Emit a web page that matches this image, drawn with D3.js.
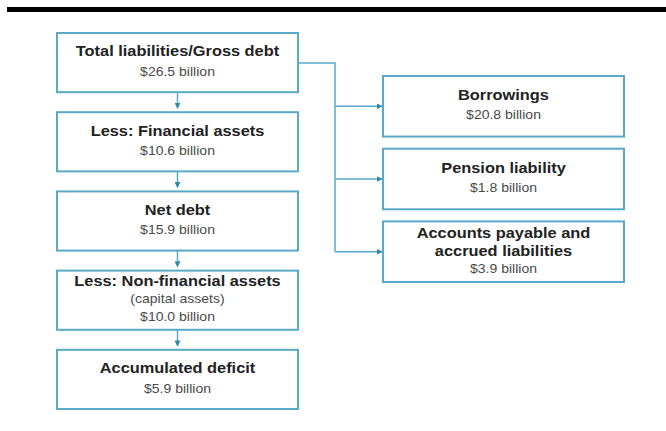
<!DOCTYPE html>
<html>
<head>
<meta charset="utf-8">
<script src="https://cdn.jsdelivr.net/npm/d3@7"></script>
<style>
  body { margin: 0; background: #fff; }
  svg { display: block; font-family: "Liberation Sans", Arial, sans-serif; }
</style>
</head>
<body>
<div id="chart"></div>
<script>
// left column (the debt chain)
var leftTitles = [
    ["Total liabilities/Gross debt"],
    ["Less: Financial assets"],
    ["Net debt"],
    ["Less: Non-financial assets"],
    ["Accumulated deficit"]
];
var leftNotes = ["", "", "", "(capital assets)", ""];
var leftValues = [26.5, 10.6, 15.9, 10.0, 5.9];

// right column (breakdown of total liabilities)
var rightTitles = [
    ["Borrowings"],
    ["Pension liability"],
    ["Accounts payable and", "accrued liabilities"]
];
var rightValues = [20.8, 1.8, 3.9];

var width = 666, height = 431;
var lineColor = "#58aac6";
var arrowColor = "#2b8aa9";

var svg = d3.select("#chart")
    .append("svg")
    .attr("width", width)
    .attr("height", height);

// top rule
svg.append("rect")
    .attr("x", 7).attr("y", 7)
    .attr("width", width - 7).attr("height", 5)
    .attr("fill", "#000");

// arrow marker
svg.append("defs").append("marker")
    .attr("id", "arrow")
    .attr("viewBox", "0 0 10 10")
    .attr("refX", 9).attr("refY", 5)
    .attr("markerWidth", 4).attr("markerHeight", 4)
    .attr("orient", "auto")
    .append("path")
    .attr("d", "M0,0L10,5L0,10z")
    .attr("fill", arrowColor);

var fmt = d3.format(".1f");

// scales for box positions
var yLeft = d3.scaleBand()
    .domain(d3.range(leftValues.length))
    .range([33, 409])
    .paddingInner(0.253)
    .paddingOuter(0);

var yRight = d3.scaleBand()
    .domain(d3.range(rightValues.length))
    .range([76, 282])
    .paddingInner(0.167)
    .paddingOuter(0);

var leftX = 57, leftW = 241;
var rightX = 383, rightW = 241;

var leftData = leftValues.map(function(v, i) {
    var lines = leftTitles[i].map(function(t) { return { text: t, type: "title" }; });
    if (leftNotes[i]) lines.push({ text: leftNotes[i], type: "note" });
    lines.push({ text: "$" + fmt(v) + " billion", type: "value" });
    return { y: yLeft(i), h: yLeft.bandwidth(), x: leftX, w: leftW, lines: lines };
});

var rightData = rightValues.map(function(v, i) {
    var lines = rightTitles[i].map(function(t) { return { text: t, type: "title" }; });
    lines.push({ text: "$" + fmt(v) + " billion", type: "value" });
    return { y: yRight(i), h: yRight.bandwidth(), x: rightX, w: rightW, lines: lines };
});

function drawBoxes(data) {
    var g = svg.selectAll(null)
        .data(data)
        .enter()
        .append("g");

    g.append("rect")
        .attr("x", function(d) { return d.x; })
        .attr("y", function(d) { return d.y; })
        .attr("width", function(d) { return d.w; })
        .attr("height", function(d) { return d.h; })
        .attr("fill", "#fff")
        .attr("stroke", lineColor)
        .attr("stroke-width", 2);

    g.each(function(d) {
        var n = d.lines.length;
        var step = n > 2 ? 18 : 20;
        var cy = d.y + d.h / 2;
        var start = cy - step * (n - 1) / 2;
        d3.select(this).selectAll("text")
            .data(d.lines)
            .enter()
            .append("text")
            // the original lettering is a bit wider than Arial
            .attr("transform", function(l, j) {
                return "translate(" + (d.x + d.w / 2) + "," + (start + j * step - 1) + ") scale(1.17,1)";
            })
            .attr("dy", "0.35em")
            .attr("text-anchor", "middle")
            .attr("font-size", function(l) { return l.type == "title" ? 14 : 12; })
            .attr("font-weight", function(l) { return l.type == "title" ? "bold" : "normal"; })
            .attr("fill", function(l) { return l.type == "title" ? "#222" : "#4a4a4a"; })
            .text(function(l) { return l.text; });
    });
}

// vertical connectors between left boxes
var cx = leftX + leftW / 2;
svg.selectAll(null)
    .data(d3.range(leftValues.length - 1))
    .enter()
    .append("line")
    .attr("x1", cx).attr("x2", cx)
    .attr("y1", function(i) { return yLeft(i) + yLeft.bandwidth(); })
    .attr("y2", function(i) { return yLeft(i + 1) - 4; })
    .attr("stroke", lineColor)
    .attr("stroke-width", 1.5)
    .attr("marker-end", "url(#arrow)");

// bracket from first box to the right column
var first = leftData[0];
var branchX = 335;
var startY = first.y + 30;
var lastY = yRight(rightValues.length - 1) + yRight.bandwidth() / 2;
svg.append("path")
    .attr("d", "M" + (leftX + leftW) + "," + startY + "H" + branchX + "V" + lastY)
    .attr("fill", "none")
    .attr("stroke", lineColor)
    .attr("stroke-width", 1.5);

svg.selectAll(null)
    .data(d3.range(rightValues.length))
    .enter()
    .append("line")
    .attr("x1", branchX).attr("x2", rightX - 1)
    .attr("y1", function(i) { return yRight(i) + yRight.bandwidth() / 2; })
    .attr("y2", function(i) { return yRight(i) + yRight.bandwidth() / 2; })
    .attr("stroke", lineColor)
    .attr("stroke-width", 1.5)
    .attr("marker-end", "url(#arrow)");

drawBoxes(leftData);
drawBoxes(rightData);
</script>
</body>
</html>
